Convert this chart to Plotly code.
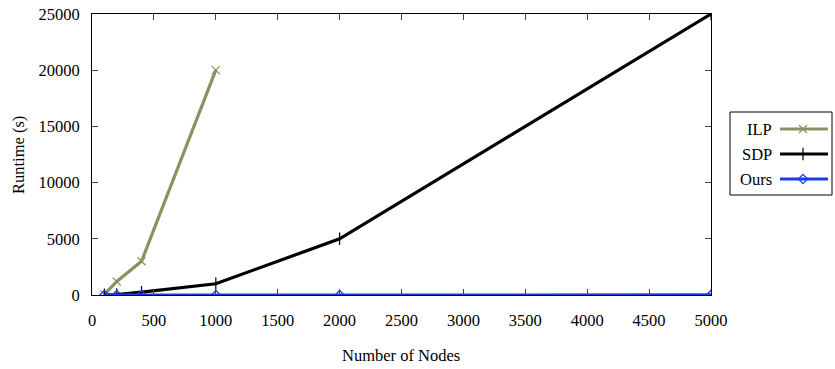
import plotly.graph_objects as go

ilp_x = [100, 200, 400, 1000]
ilp_y = [50, 1200, 3000, 20000]
sdp_x = [100, 200, 400, 1000, 2000, 5000]
sdp_y = [10, 40, 250, 1000, 5000, 25000]
ours_x = [100, 200, 400, 1000, 2000, 5000]
ours_y = [1, 2, 3, 5, 8, 15]

x_ticks = [0, 500, 1000, 1500, 2000, 2500, 3000, 3500, 4000, 4500, 5000]
y_ticks = [0, 5000, 10000, 15000, 20000, 25000]

ILP_C = "#8f8f64"
SDP_C = "#000000"
OURS_C = "#1a3cf0"
FONT = "Liberation Serif"
FS = 16.5

W, H = 835, 369
L, R, T, B = 92, 2, 14, 74
PW = W - L - R
PH = H - T - B


def px(x):
    return (x - L) / PW


def py(y):
    return 1 - (y - T) / PH


fig = go.Figure()
fig.add_trace(go.Scatter(x=ilp_x, y=ilp_y, mode="lines+markers", name="ILP",
                         line=dict(color=ILP_C, width=3.2),
                         marker=dict(symbol="x-thin", size=8, line=dict(color=ILP_C, width=1.2))))
fig.add_trace(go.Scatter(x=sdp_x, y=sdp_y, mode="lines+markers", name="SDP",
                         line=dict(color=SDP_C, width=3.2),
                         marker=dict(symbol="line-ns", size=9, line=dict(color=SDP_C, width=1.2))))
fig.add_trace(go.Scatter(x=ours_x, y=ours_y, mode="lines+markers", name="Ours",
                         line=dict(color=OURS_C, width=3),
                         marker=dict(symbol="diamond-open", size=7, line=dict(color=OURS_C, width=1.3))))

# Manual gnuplot-style legend (text left of sample)
legend_items = [("ILP", ILP_C, "x-thin", 8), ("SDP", SDP_C, "line-ns", 9), ("Ours", OURS_C, "diamond-open", 7)]
leg_y = [129, 154, 179]
shapes = [dict(type="rect", xref="paper", yref="paper",
               x0=px(730), x1=px(832), y0=py(195), y1=py(112),
               line=dict(color="black", width=1))]
annotations = []
for (name, col, sym, sz), ly in zip(legend_items, leg_y):
    yp = py(ly)
    shapes.append(dict(type="line", xref="paper", yref="paper",
                       x0=px(780), x1=px(828), y0=yp, y1=yp,
                       line=dict(color=col, width=3.2)))
    annotations.append(dict(text=name, xref="paper", yref="paper",
                            x=px(774), y=yp, xanchor="right", yanchor="middle",
                            showarrow=False, font=dict(family=FONT, size=FS, color="black")))
    fig.add_trace(go.Scatter(x=[0.5], y=[yp], xaxis="x2", yaxis="y2", mode="markers",
                             showlegend=False, hoverinfo="skip",
                             marker=dict(symbol=sym, size=sz, line=dict(color=col, width=1.2), color=col)))

annotations.append(dict(text="Number of Nodes", xref="paper", yref="paper",
                        x=px(401), y=py(355), xanchor="center", yanchor="middle",
                        showarrow=False, font=dict(family=FONT, size=FS, color="black")))
annotations.append(dict(text="Runtime (s)", xref="paper", yref="paper",
                        x=px(18), y=py(155), xanchor="center", yanchor="middle", textangle=-90,
                        showarrow=False, font=dict(family=FONT, size=FS, color="black")))

fig.update_layout(
    width=W, height=H,
    margin=dict(l=L, r=R, t=T, b=B, autoexpand=False),
    paper_bgcolor="white", plot_bgcolor="white",
    showlegend=False,
    font=dict(family=FONT, size=FS, color="black"),
    shapes=shapes, annotations=annotations,
    xaxis=dict(domain=[0, px(711)], range=[0, 5000], tickvals=x_ticks, ticks="inside", ticklen=6,
               showline=True, linecolor="black", linewidth=1, mirror="ticks",
               showgrid=False, zeroline=False, tickfont=dict(family=FONT, size=FS),
               ticklabelstandoff=10),
    yaxis=dict(range=[0, 25000], tickvals=y_ticks, ticks="inside", ticklen=6,
               showline=True, linecolor="black", linewidth=1, mirror="ticks",
               showgrid=False, zeroline=False, tickformat="d", tickfont=dict(family=FONT, size=FS),
               ticklabelstandoff=8),
    xaxis2=dict(domain=[px(798), px(808)], range=[0, 1], visible=False, anchor="y2"),
    yaxis2=dict(domain=[0, 1], range=[0, 1], visible=False, anchor="x2"),
)

fig.write_html("out.html", config={"displayModeBar": False},
               post_script="document.body.style.margin='0';document.body.style.overflow='hidden';")
